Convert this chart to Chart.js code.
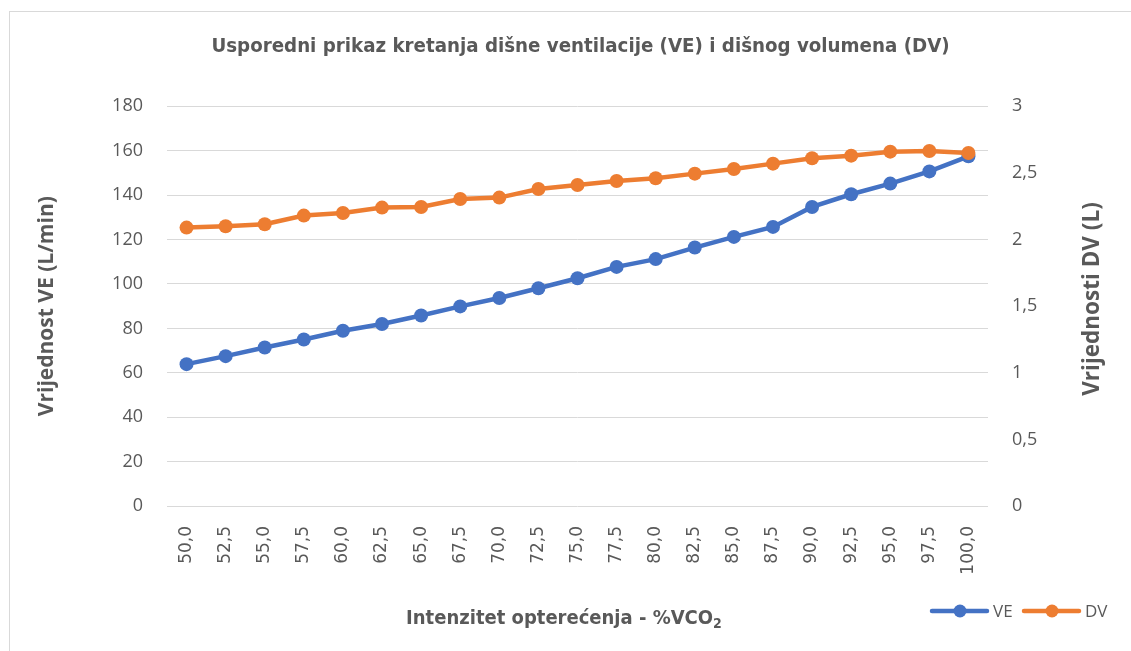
<!DOCTYPE html>
<html>
<head>
<meta charset="utf-8">
<script src="https://cdn.jsdelivr.net/npm/chart.js@4.4.1/dist/chart.umd.min.js"></script>
<style>
  html, body { margin: 0; padding: 0; background: #fff; overflow: hidden; }
  #wrap { position: relative; width: 1131px; height: 651px; }
  #frame { position: absolute; left: 9px; top: 11px; width: 1200px; height: 700px; border: 1px solid #d9d9d9; box-sizing: border-box; }
  canvas { position: absolute; left: 0; top: 0; }
</style>
</head>
<body>
<div id="wrap">
  <div id="frame"></div>
  <canvas id="chart" width="1131" height="651"></canvas>
</div>
<script>
/* VE / DV comparison — dual axis line chart */

const categories = ['50,0', '52,5', '55,0', '57,5', '60,0', '62,5', '65,0', '67,5', '70,0', '72,5',
    '75,0', '77,5', '80,0', '82,5', '85,0', '87,5', '90,0', '92,5', '95,0', '97,5', '100,0'];
const veValues = [63.9, 67.5, 71.4, 75.0, 78.9, 82.0, 85.8, 89.9, 93.7, 98.1,
    102.6, 107.7, 111.2, 116.4, 121.2, 125.7, 134.7, 140.4, 145.2, 150.7, 157.5];
const dvValues = [2.09, 2.10, 2.115, 2.18, 2.20, 2.24, 2.245, 2.305, 2.315, 2.38,
    2.41, 2.44, 2.46, 2.495, 2.53, 2.57, 2.61, 2.63, 2.66, 2.665, 2.65];

const chartTitle = 'Usporedni prikaz kretanja dišne ventilacije (VE) i dišnog volumena (DV)';
const xTitle = 'Intenzitet opterećenja - %VCO';
const xTitleSub = '2';
const leftTitle = 'Vrijednost VE (L/min)';
const rightTitle = 'Vrijednosti DV (L)';
const seriesNames = ['VE', 'DV'];

const BLUE = '#4472C4';
const ORANGE = '#ED7D31';
const TEXT = '#595959';
const GRID = '#d9d9d9';
const NARROW = '"Liberation Sans Narrow", "DejaVu Sans Condensed", "Liberation Sans", sans-serif';
const SANS = '"Open Sans", "Noto Sans", sans-serif';

// extra labels: right axis title, x title with subscript, legend
const extrasPlugin = {
    id: 'extras',
    afterDraw(chart) {
        const ctx = chart.ctx;
        ctx.save();
        ctx.fillStyle = TEXT;

        // right axis title, reading bottom-to-top
        ctx.font = 'bold 22.5px ' + SANS;
        ctx.textAlign = 'center';
        ctx.textBaseline = 'middle';
        ctx.translate(1093, 299);
        ctx.rotate(-Math.PI / 2);
        ctx.fillText(rightTitle, 0, 0);
        ctx.setTransform(1, 0, 0, 1, 0, 0);

        // x axis title
        ctx.font = 'bold 20px ' + NARROW;
        const mainW = ctx.measureText(xTitle).width;
        ctx.font = 'bold 14px ' + NARROW;
        const subW = ctx.measureText(xTitleSub).width;
        const x = 564 - (mainW + subW) / 2;
        ctx.textAlign = 'left';
        ctx.textBaseline = 'alphabetic';
        ctx.font = 'bold 20px ' + NARROW;
        ctx.fillText(xTitle, x, 624);
        ctx.font = 'bold 14px ' + NARROW;
        ctx.fillText(xTitleSub, x + mainW, 628);

        // legend
        const colors = [BLUE, ORANGE];
        const starts = [932, 1024];
        ctx.font = '17px ' + SANS;
        ctx.textBaseline = 'middle';
        for (let i = 0; i < 2; i++) {
            const sx = starts[i], y = 611;
            ctx.strokeStyle = colors[i];
            ctx.lineWidth = 4.5;
            ctx.lineCap = 'round';
            ctx.beginPath();
            ctx.moveTo(sx, y);
            ctx.lineTo(sx + 55, y);
            ctx.stroke();
            ctx.fillStyle = colors[i];
            ctx.beginPath();
            ctx.arc(sx + 28, y, 6.5, 0, Math.PI * 2);
            ctx.fill();
            ctx.fillStyle = TEXT;
            ctx.fillText(seriesNames[i], sx + 61, y + 1);
        }
        ctx.restore();
    },
};

new Chart(document.getElementById('chart'), {
    type: 'line',
    data: {
        labels: categories,
        datasets: [
            {
                label: seriesNames[0],
                data: veValues,
                yAxisID: 'y',
                borderColor: BLUE,
                backgroundColor: BLUE,
                pointBackgroundColor: BLUE,
                pointBorderColor: BLUE,
                borderWidth: 4.5,
                pointRadius: 7,
                pointBorderWidth: 0,
                tension: 0,
                order: 2,
            },
            {
                label: seriesNames[1],
                data: dvValues,
                yAxisID: 'y1',
                borderColor: ORANGE,
                backgroundColor: ORANGE,
                pointBackgroundColor: ORANGE,
                pointBorderColor: ORANGE,
                borderWidth: 4.5,
                pointRadius: 7,
                pointBorderWidth: 0,
                tension: 0,
                order: 1,
            },
        ],
    },
    options: {
        responsive: false,
        animation: false,
        layout: { padding: { left: 30, right: 0, top: 0, bottom: 19 } },
        plugins: {
            legend: { display: false },
            tooltip: { enabled: false },
            title: {
                display: true,
                text: chartTitle,
                color: TEXT,
                font: { family: NARROW, size: 20.3, weight: 'bold' },
                padding: { top: 35, bottom: 47 },
            },
        },
        scales: {
            x: {
                offset: true,
                grid: { display: false },
                border: { display: false },
                ticks: {
                    color: TEXT,
                    font: { family: '"DejaVu Sans", sans-serif', size: 17 },
                    minRotation: 90,
                    maxRotation: 90,
                    autoSkip: false,
                    padding: 12,
                },
                afterFit(scale) { scale.height = 126; },
            },
            y: {
                position: 'left',
                min: 0,
                max: 180,
                ticks: {
                    stepSize: 20,
                    color: TEXT,
                    font: { family: SANS, size: 18 },
                    padding: 24,
                },
                grid: { color: GRID, lineWidth: 1, drawTicks: false },
                border: { display: false },
                title: {
                    display: true,
                    text: leftTitle,
                    color: TEXT,
                    font: { family: SANS, size: 21, weight: 'bold' },
                },
                afterFit(scale) { scale.width = 137; },
            },
            y1: {
                position: 'right',
                min: 0,
                max: 3,
                ticks: {
                    stepSize: 0.5,
                    color: TEXT,
                    font: { family: SANS, size: 18 },
                    padding: 24,
                    callback: (v) => String(v).replace('.', ','),
                },
                grid: { display: false, drawTicks: false },
                border: { display: false },
                afterFit(scale) { scale.width = 143; },
            },
        },
    },
    plugins: [extrasPlugin],
});
</script>
</body>
</html>
